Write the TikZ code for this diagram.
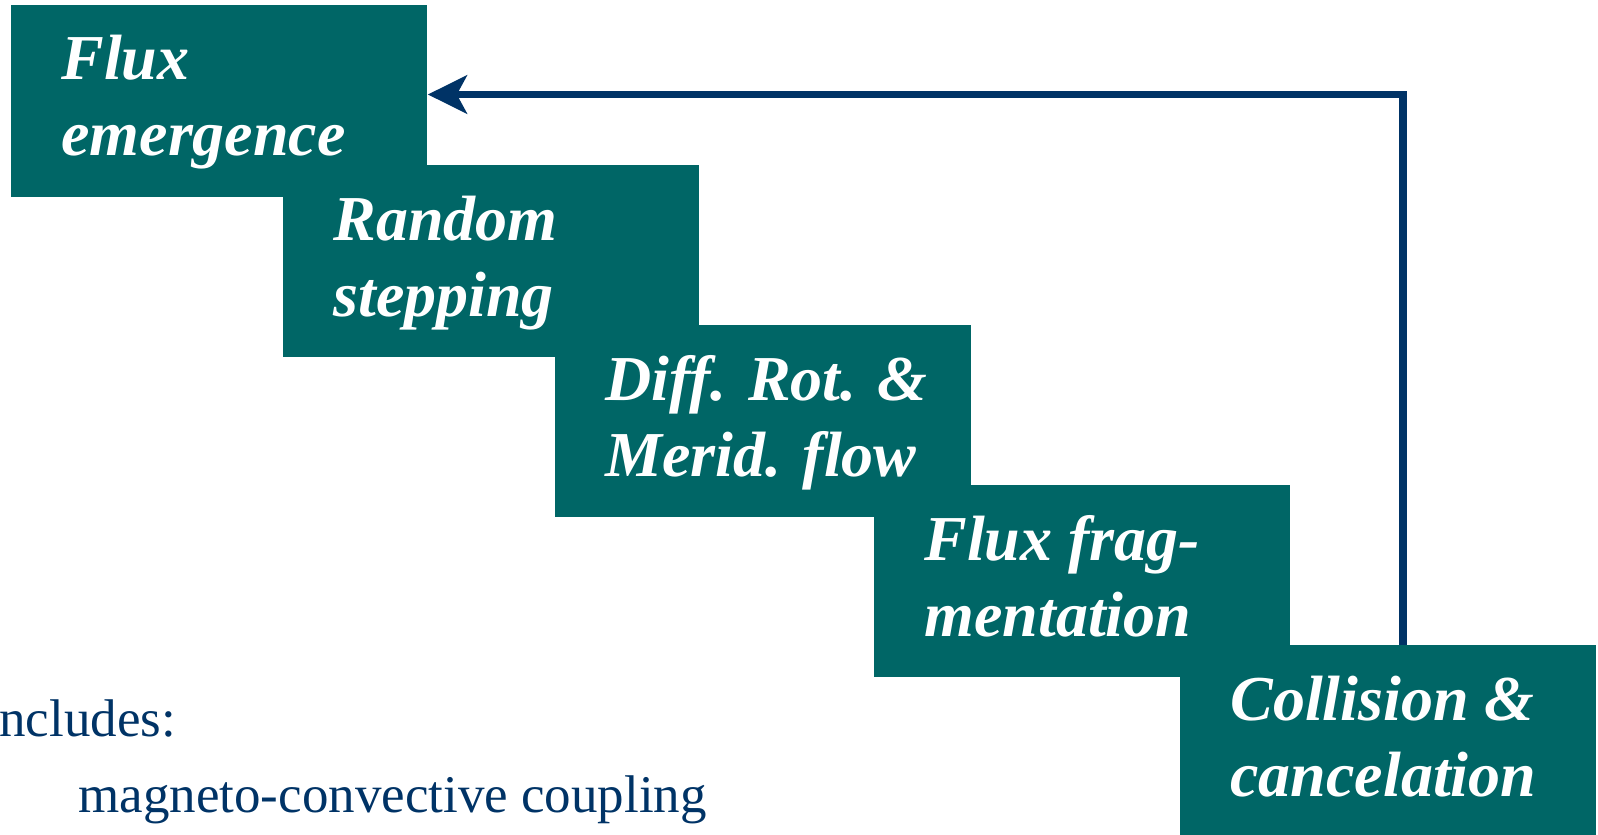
\documentclass[tikz,border=0pt]{standalone}
\usepackage{fontspec}
\setmainfont{Liberation Serif}
\usetikzlibrary{positioning,arrows.meta}
\definecolor{fluxc}{RGB}{0,102,102}
\definecolor{navyc}{RGB}{0,51,102}

\begin{document}
\begin{tikzpicture}[x=0.5pt,y=-0.5pt]
\tikzstyle{stp}=[anchor=north west,fill=fluxc,inner sep=0pt,minimum width=208pt,minimum height=96pt];
\tikzstyle{lbl}=[anchor=base west,inner sep=0pt,align=left,text=white,font=\fontsize{32}{38}\selectfont\bfseries\itshape];
\tikzstyle{inc}=[anchor=base west,inner sep=0pt,text=navyc,font=\fontsize{26.5}{32}\selectfont];

\useasboundingbox (0,0) rectangle (1598,834);

\begin{scope}
      \foreach \n/\x/\y in {1/11/5,2/283/165,3/555/325,4/874/485,5/1180/645}
        \node[stp] (b\n) at (\x,\y) {};

        \node[lbl] (t1) at (61,156) {Flux\\emergence};
        \node[lbl] (t2) at (333,316) {Random\\stepping};
        \node[lbl] (t3) at (605,476) {Diff. Rot. \&\\Merid. flow};
        \node[lbl] (t4) at (924,636) {Flux frag-\\mentation};
        \node[lbl] (t5) at (1230,796) {Collision \&\\cancelation};

        %\node[inc] at (-10,736) {Includes:};
        \node[inc] (n1) at (-1,736) {ncludes:};
        \node[inc] (n2) at (78,812) {magneto-convective coupling};

        \coordinate (turn) at (1403,94.5);
        \draw[navyc,line width=3.75pt,-{Stealth[length=19.5pt,width=19pt,inset=5pt]}] (turn |- b5.north) -- (turn) -- (b1.east |- turn);
\end{scope}

\end{tikzpicture}
\end{document}
